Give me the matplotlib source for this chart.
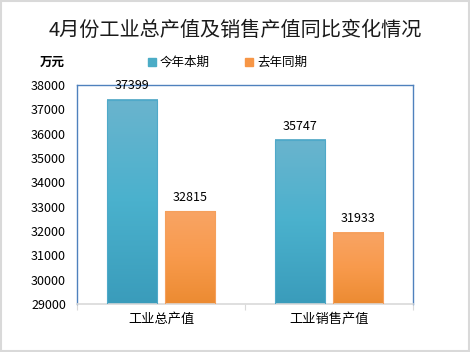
import matplotlib.pyplot as plt
import numpy as np
from matplotlib.colors import LinearSegmentedColormap
from matplotlib.patches import Rectangle

plt.rcParams['font.family'] = ['Noto Sans CJK SC', 'DejaVu Sans']

categories = ["工业总产值", "工业销售产值"]
this_year = [37399, 35747]
last_year = [32815, 31933]
series_names = ["今年本期", "去年同期"]

fig = plt.figure(figsize=(4.7, 3.52), dpi=100)
fig.patches.append(Rectangle((0.002, 0.002), 0.995, 0.994, transform=fig.transFigure,
                             fill=False, edgecolor="#d9d9d9", linewidth=1.5))
ax = fig.add_axes([77 / 470, 1 - 304 / 352, 336 / 470, 219 / 352])

blue_cmap = LinearSegmentedColormap.from_list("b", ["#6ab4ce", "#4ab1cd", "#3a9cbb"])
orange_cmap = LinearSegmentedColormap.from_list("o", ["#f9a464", "#f89a4c", "#ec8b32"])
grad = np.linspace(0, 1, 100).reshape(-1, 1)

x = np.arange(len(categories))
w = 0.30
off = 0.172
for vals, cmap, edge, dx in [(this_year, blue_cmap, "#4fa9c9", -off),
                             (last_year, orange_cmap, "#f5a05c", off)]:
    for xi, v in zip(x, vals):
        left = xi + dx - w / 2
        ax.imshow(grad, cmap=cmap, aspect="auto", extent=[left, left + w, 29000, v],
                  origin="upper", zorder=2)
        ax.add_patch(Rectangle((left, 29000), w, v - 29000, fill=False,
                               edgecolor=edge, linewidth=0.8, zorder=3))
        ax.text(xi + dx, v + 300, str(v), ha="center", va="bottom", fontsize=9)

ax.set_xlim(-0.5, 1.5)
ax.set_ylim(29000, 38000)
ax.set_yticks(np.arange(29000, 38001, 1000))
ax.tick_params(axis="y", length=0, labelsize=9, pad=8)
ax.set_xticks([-0.5, 0.5, 1.5])
ax.set_xticklabels([])
ax.set_xticks(x, minor=True)
ax.set_xticklabels(categories, minor=True, fontsize=9.5)
ax.tick_params(axis="x", which="major", length=4, color="#d9d9d9", direction="out")
ax.tick_params(axis="x", which="minor", length=0, pad=6)
for s in ["left", "top", "right"]:
    ax.spines[s].set_color("#4f81bd")
    ax.spines[s].set_linewidth(1.0)
ax.spines["bottom"].set_color("#d9d9d9")
ax.spines["bottom"].set_linewidth(1.2)

fig.text(0.5, 1 - 30 / 352, "4月份工业总产值及销售产值同比变化情况", ha="center", va="center",
         fontsize=14.5, color="#1a1a1a")
fig.text(40 / 470, 1 - 62 / 352, "万元", ha="left", va="center", fontsize=9, fontweight="bold")
for xs, color, name in [(148, "#4bacc6", series_names[0]), (245, "#f79646", series_names[1])]:
    fig.patches.append(Rectangle((xs / 470, 1 - 66 / 352), 8 / 470, 8 / 352,
                                 transform=fig.transFigure, color=color))
    fig.text((xs + 12) / 470, 1 - 62 / 352, name, ha="left", va="center", fontsize=9)

fig.savefig("out.png", dpi=100)
